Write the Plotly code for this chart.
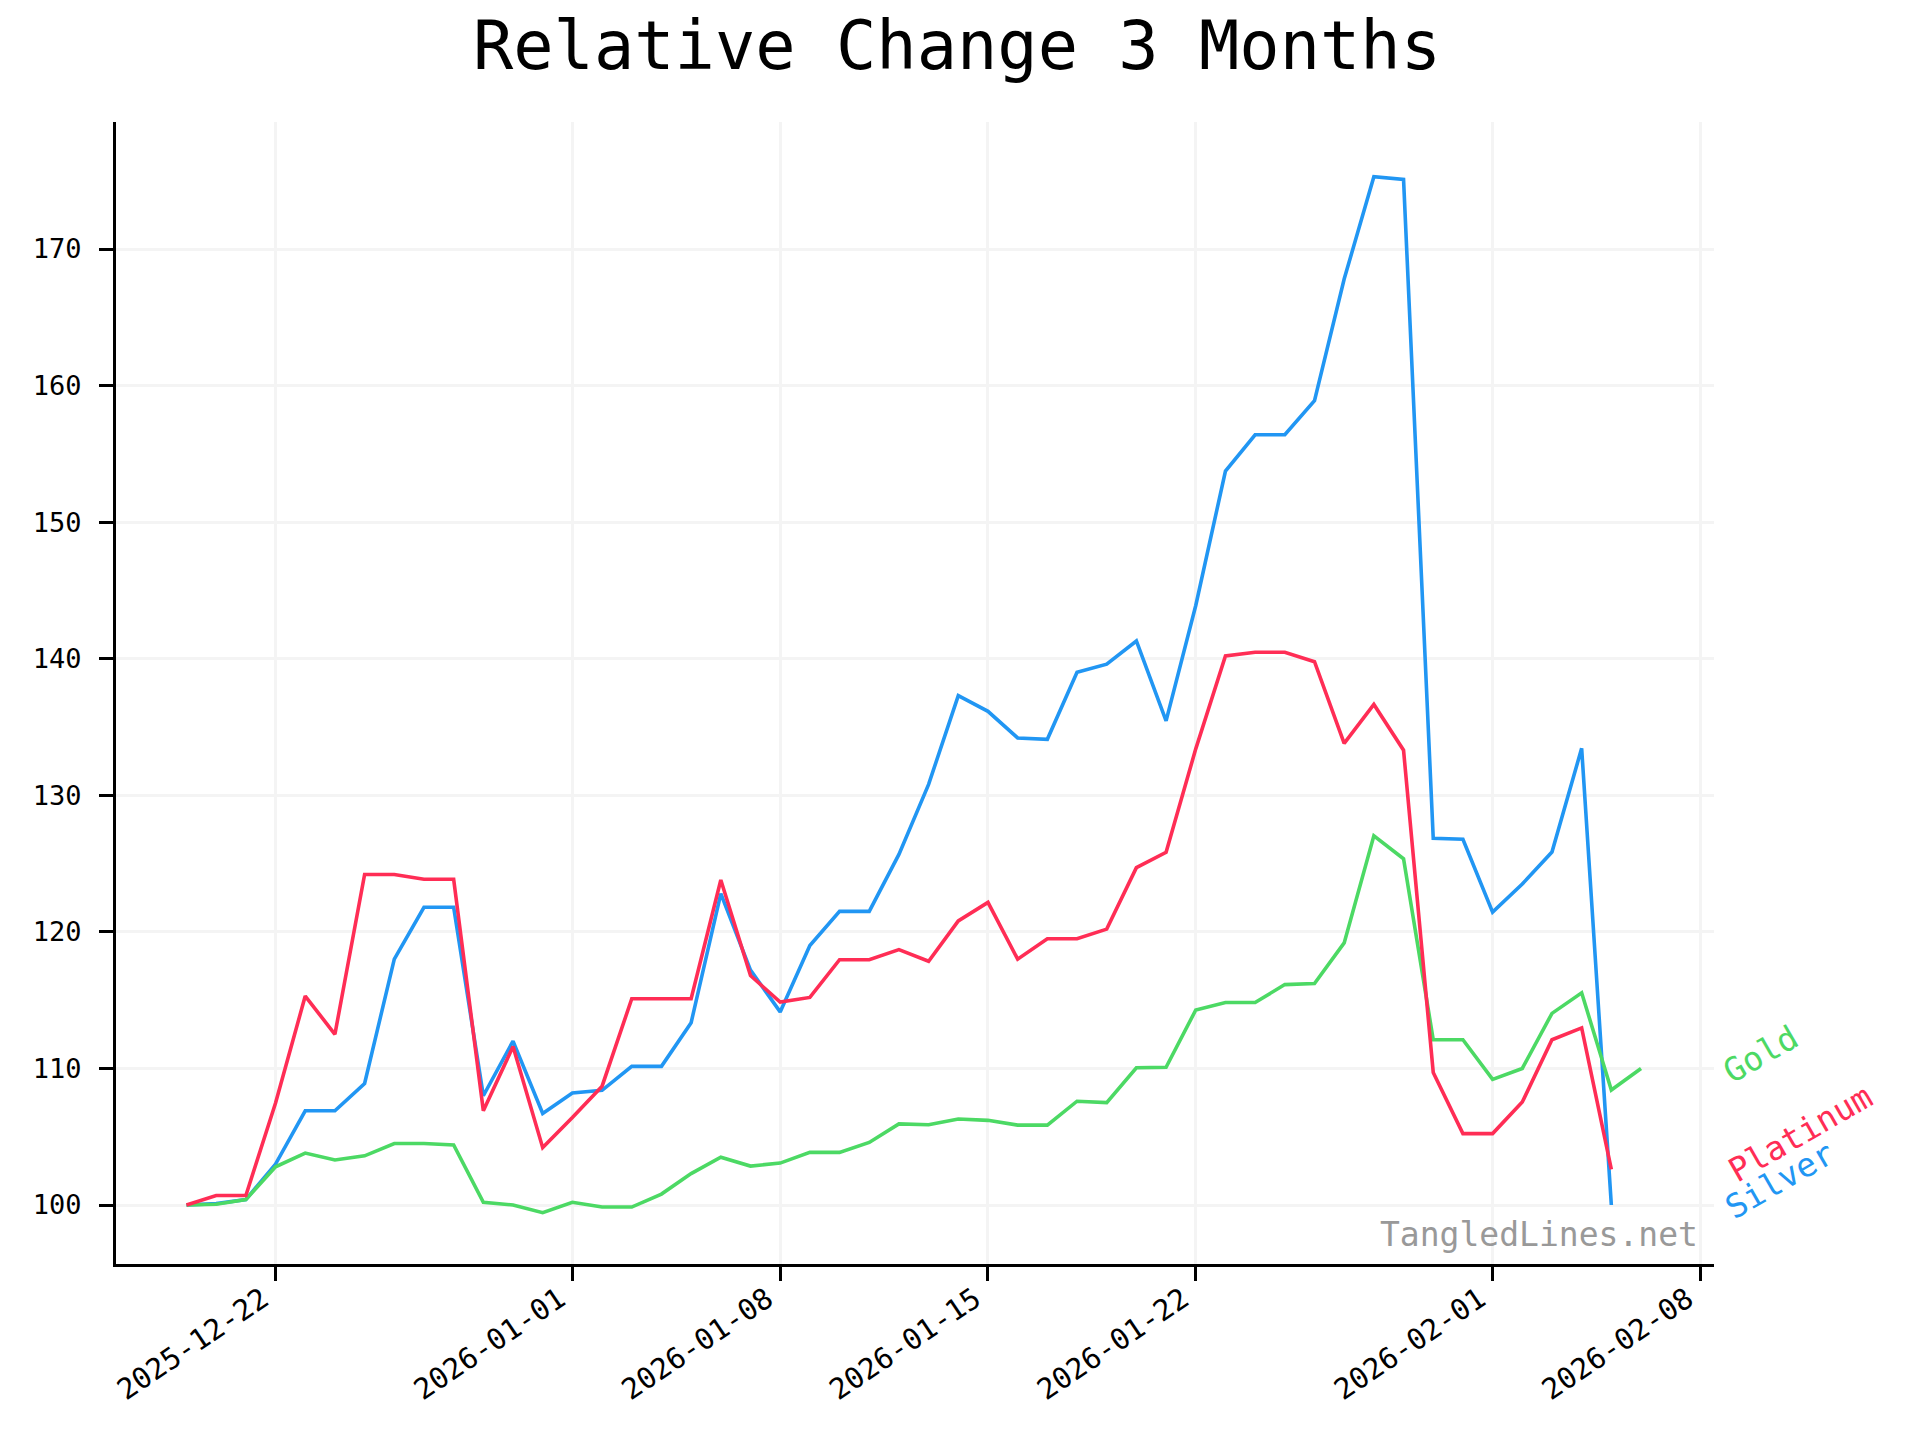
import pandas as pd
import plotly.graph_objects as go

# ---- data ----
dates = pd.date_range("2025-12-19", "2026-02-06", freq="D")

gold = [100.0, 100.05, 100.4, 102.8, 103.8, 103.3, 103.6, 104.5, 104.5, 104.4,
        100.2, 100.0, 99.44, 100.2, 99.85, 99.85, 100.8, 102.3, 103.5, 102.85,
        103.07, 103.85, 103.85, 104.58, 105.94, 105.88, 106.3, 106.2, 105.85, 105.85,
        107.6, 107.5, 110.05, 110.08, 114.28, 114.83, 114.83, 116.14, 116.22, 119.19,
        127.03, 125.35, 112.1, 112.1, 109.2, 110.0, 114.03, 115.54, 108.42, 110.0]

platinum = [100.0, 100.7, 100.7, 107.47, 115.3, 112.5, 124.2, 124.2, 123.85, 123.85,
            106.9, 111.6, 104.2, 106.4, 108.7, 115.1, 115.1, 115.1, 123.8, 116.8,
            114.86, 115.2, 117.96, 117.96, 118.7, 117.85, 120.8, 122.16, 118.0, 119.5,
            119.5, 120.2, 124.7, 125.83, 133.4, 140.2, 140.47, 140.47, 139.78, 133.8,
            136.65, 133.3, 109.7, 105.23, 105.23, 107.54, 112.1, 112.97, 102.6]

silver = [100.0, 100.1, 100.4, 103.0, 106.9, 106.9, 108.9, 118.0, 121.8, 121.8,
          108.0, 112.0, 106.7, 108.2, 108.4, 110.15, 110.15, 113.35, 122.8, 117.2,
          114.14, 119.0, 121.5, 121.5, 125.67, 130.8, 137.3, 136.15, 134.2, 134.1,
          139.0, 139.6, 141.3, 135.45, 143.9, 153.74, 156.4, 156.4, 158.9, 167.8,
          175.3, 175.1, 126.85, 126.78, 121.45, 123.5, 125.85, 133.44, 100.0]

series = [("Silver", silver, "#2196f3"),
          ("Gold", gold, "#4cd964"),
          ("Platinum", platinum, "#ff2d55")]

tick_dates = ["2025-12-22", "2026-01-01", "2026-01-08", "2026-01-15",
              "2026-01-22", "2026-02-01", "2026-02-08"]
y_ticks = [100, 110, 120, 130, 140, 150, 160, 170]

# label placement (pixel nudges relative to last point / plot edge)
label_style = {"Gold": (46, 14), "Platinum": (86, 36), "Silver": (65, 25)}

FONT = "DejaVu Sans Mono"

fig = go.Figure()
for name, vals, color in series:
    fig.add_trace(go.Scatter(
        x=dates[:len(vals)], y=vals, mode="lines", name=name,
        line=dict(color=color, width=3.6), showlegend=False))

for name, vals, color in series:
    dx, dy = label_style[name]
    fig.add_annotation(
        x=1.0, xref="paper", y=vals[-1], yref="y",
        text=name, showarrow=False, textangle=-30,
        xanchor="center", yanchor="middle",
        xshift=dx, yshift=dy,
        font=dict(family=FONT, size=33, color=color))

fig.add_annotation(
    x=1.0, xref="paper", y=0.026, yref="paper",
    text="TangledLines.net", showarrow=False,
    xanchor="right", yanchor="middle", xshift=-14,
    font=dict(family=FONT, size=33, color="#999999"))

fig.update_layout(
    width=1920, height=1440,
    paper_bgcolor="white", plot_bgcolor="white",
    margin=dict(l=108, r=214, t=114, b=184),
    title=dict(text="Relative Change 3 Months", x=949 / 1920, xanchor="center",
               y=1 - 38 / 1440, yanchor="middle", yref="container",
               font=dict(family=FONT, size=67, color="black")),
    font=dict(family=FONT, size=28, color="black"),
)

fig.update_xaxes(
    range=["2025-12-16 15:00", "2026-02-08 11:00"],
    tickvals=pd.to_datetime(tick_dates), ticktext=tick_dates,
    tickangle=-34, ticks="outside", ticklen=14, tickwidth=3, tickcolor="black",
    ticklabelstandoff=-10, ticklabelshift=-13,
    showline=True, linecolor="black", linewidth=3,
    showgrid=True, gridcolor="#f4f4f4", gridwidth=3,
    zeroline=False, tickfont=dict(family=FONT, size=29, color="black"))

fig.update_yaxes(
    range=[95.68, 179.3],
    tickvals=y_ticks, ticks="outside", ticklen=14, tickwidth=3, tickcolor="black",
    ticklabelstandoff=12,
    showline=True, linecolor="black", linewidth=3,
    showgrid=True, gridcolor="#f4f4f4", gridwidth=3,
    zeroline=False, tickfont=dict(family=FONT, size=27, color="black"))

fig.write_html("out.html")
